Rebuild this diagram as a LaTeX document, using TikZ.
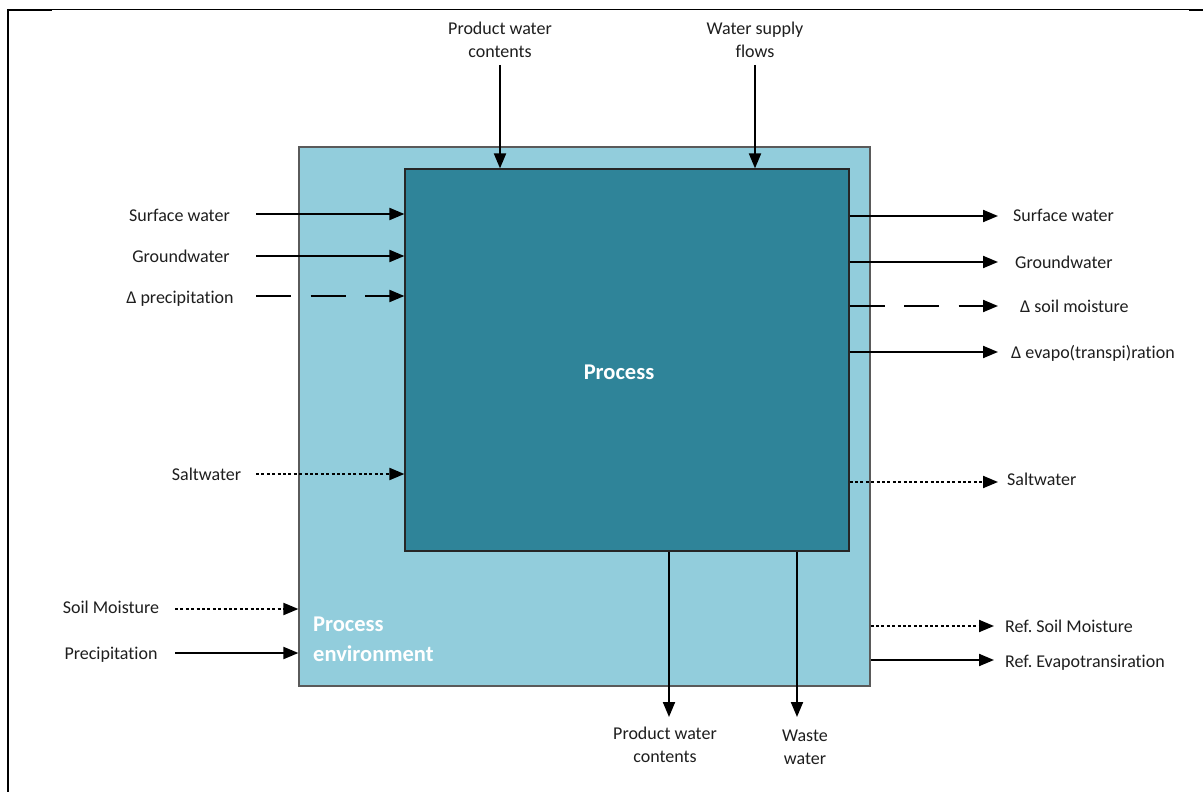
\documentclass[tikz,border=0pt]{standalone}
\usepackage{fontspec}
\setmainfont{Carlito}[Ligatures={TeX,NoCommon}]
\usetikzlibrary{arrows.meta}
\definecolor{envfill}{HTML}{92CDDC}
\definecolor{procfill}{HTML}{2F8499}
\definecolor{envline}{HTML}{5A5A5A}
\definecolor{txt}{HTML}{1E1E1E}
\tikzset{
  lbl/.style={inner sep=0pt, text=txt, font=\fontsize{18}{23}\selectfont,
              text height=13.5pt, text depth=2pt},
  lbltwo/.style={inner sep=0pt, text=txt, font=\fontsize{18}{23}\selectfont, align=center},
  flow/.style={line width=2pt, draw=black, -{Triangle[length=15pt,width=12pt]}},
  longdash/.style={dash pattern=on 35pt off 19.5pt},
  dots/.style={dash pattern=on 3pt off 2.4pt},
}
\begin{document}
\frenchspacing
\begin{tikzpicture}[x=1pt,y=-1pt]
\useasboundingbox (0,0) rectangle (1203,792);
\fill[white] (0,0) rectangle (1203,792);

% page frame
\draw[line width=1pt] (8,9.5) -- (1190,9.5);
\draw[line width=2.2pt] (8,10.3) -- (52,10.3);
\draw[line width=2.2pt] (1189,10.3) -- (1203,10.3);
\draw[line width=2pt] (8.3,9) -- (8.3,792);

% boxes
\node[draw=envline, line width=1.2pt, fill=envfill, minimum width=571pt, minimum height=539pt,
      inner sep=0pt] (env) at (584.5,416.5) {};
\node[draw=black!85, line width=1.2pt, fill=procfill, minimum width=444pt, minimum height=382pt,
      inner sep=0pt] (proc) at (627,360) {};
\node[text=white, font=\bfseries\fontsize{22.5}{28}\selectfont, inner sep=0pt] (proclbl) at (619,372) {Process};
\node[text=white, font=\bfseries\fontsize{22.5}{30}\selectfont, align=left, anchor=north west,
      inner sep=0pt] (envlbl) at (313,617) {Process\\environment};

% top inputs
\node[lbltwo, anchor=north] (tin1) at (500,22) {Product water\\contents};
\node[lbltwo, anchor=north] (tin2) at (755,22) {Water supply\\flows};
\coordinate (t1) at (500,65);
\coordinate (t2) at (755,65);
\draw[flow] (t1) -- (t1 |- proc.north);
\draw[flow] (t2) -- (t2 |- proc.north);

% left inputs to the process
\node[lbl] (lsw) at (179.5,216) {Surface water};
\node[lbl] (lgw) at (181,257) {Groundwater};
\node[lbl] (ldp) at (180,298) {Δ precipitation};
\node[lbl] (lsa) at (206.5,475) {Saltwater};
\coordinate (s1) at (256,214);
\coordinate (s2) at (256,256);
\coordinate (s3) at (256,296);
\coordinate (s4) at (256,474);
\draw[flow] (s1) -- (s1 -| proc.west);
\draw[flow] (s2) -- (s2 -| proc.west);
\draw[flow, longdash] (s3) -- (s3 -| proc.west);
\draw[flow, dots] (s4) -- (s4 -| proc.west);

% left inputs to the environment
\node[lbl] (lsm) at (111,608) {Soil Moisture};
\node[lbl] (lpr) at (111,654) {Precipitation};
\coordinate (s5) at (175,609);
\coordinate (s6) at (175,653);
\draw[flow, dots] (s5) -- (s5 -| env.west);
\draw[flow] (s6) -- (s6 -| env.west);

% right outputs from the process
\coordinate (r1) at (998,216);
\coordinate (r2) at (998,262);
\coordinate (r3) at (998,306);
\coordinate (r4) at (998,352);
\coordinate (r5) at (998,482);
\node[lbl, anchor=west] (rsw) at (1013,216) {Surface water};
\node[lbl, anchor=west] (rgw) at (1015,263) {Groundwater};
\node[lbl, anchor=west] (rsm) at (1020,307) {Δ soil moisture};
\node[lbl, anchor=west] (rev) at (1011,353) {Δ evapo(transpi)ration};
\node[lbl, anchor=west] (rsa) at (1007,480) {Saltwater};
\draw[flow] (r1 -| proc.east) -- (r1);
\draw[flow] (r2 -| proc.east) -- (r2);
\draw[flow, longdash] (r3 -| proc.east) -- (r3);
\draw[flow] (r4 -| proc.east) -- (r4);
\draw[flow, dots] (r5 -| proc.east) -- (r5);

% right outputs from the environment
\coordinate (r6) at (994,626);
\coordinate (r7) at (994,660);
\node[lbl, anchor=west] (rrs) at (1005,627) {Ref. Soil Moisture};
\node[lbl, anchor=west] (rre) at (1005,662) {Ref. Evapotransiration};
\draw[flow, dots] (r6 -| env.east) -- (r6);
\draw[flow] (r7 -| env.east) -- (r7);

% bottom outputs
\coordinate (b1) at (669,717);
\coordinate (b2) at (797,717);
\node[lbltwo, anchor=north] (bo1) at (665,727) {Product water\\contents};
\node[lbltwo, anchor=north] (bo2) at (805,730) {Waste\\water};
\draw[flow] (b1 |- proc.south) -- (b1);
\draw[flow] (b2 |- proc.south) -- (b2);
\end{tikzpicture}
\end{document}
